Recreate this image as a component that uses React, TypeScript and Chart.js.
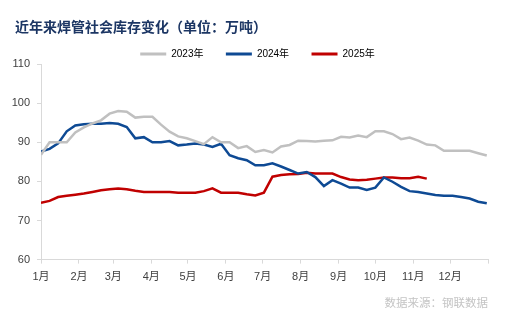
import React, { useEffect, useRef } from "react";
import { Chart, registerables } from "chart.js";

Chart.register(...registerables);

const titleText = "近年来焊管社会库存变化（单位：万吨）";
const sourceText = "数据来源：钢联数据";

const seriesNames = ["2023年", "2024年", "2025年"];
const seriesColors = ["#C0C0C0", "#0E4A94", "#C00000"];

// day-of-year of each weekly observation
const weekDays = [
  0, 7, 14, 21, 28, 35, 42, 49, 56, 63, 70, 77, 84, 91, 98, 105, 112, 119, 126, 133,
  140, 147, 154, 161, 168, 175, 182, 189, 196, 203, 210, 217, 224, 231, 238, 245, 252,
  259, 266, 273, 280, 287, 294, 301, 308, 315, 322, 329, 336, 343, 350, 357, 364,
];

const values2023 = [
  86.8, 90, 90, 90, 92.5, 93.8, 94.8, 95.6, 97.3, 98, 97.8, 96.3, 96.5, 96.5, 94.5,
  92.7, 91.5, 91, 90.3, 89.5, 91.3, 90, 90, 88.5, 89, 87.5, 88, 87.4, 88.9, 89.3, 90.4,
  90.3, 90.2, 90.4, 90.5, 91.4, 91.2, 91.7, 91.3, 92.8, 92.8, 92.1, 90.8, 91.2, 90.4,
  89.4, 89.2, 87.8, 87.8, 87.8, 87.8, 87.2, 86.6,
];

const values2024 = [
  87.6, 88.3, 89.7, 92.8, 94.3, 94.6, 94.7, 94.7, 94.9, 94.7, 93.9, 91, 91.3, 90, 90,
  90.3, 89.2, 89.4, 89.7, 89.4, 88.8, 89.6, 86.7, 85.9, 85.4, 84.1, 84.1, 84.6, 83.8,
  82.9, 82, 82.4, 81.1, 78.8, 80.3, 79.4, 78.4, 78.4, 77.8, 78.4, 81, 79.9, 78.6, 77.5,
  77.3, 76.9, 76.5, 76.3, 76.3, 76, 75.6, 74.8, 74.4,
];

const values2025 = [
  74.5, 75, 76, 76.3, 76.6, 76.9, 77.3, 77.7, 78, 78.2, 78, 77.6, 77.3, 77.3, 77.3,
  77.3, 77.1, 77.1, 77.1, 77.5, 78.2, 77.1, 77.1, 77.1, 76.7, 76.4, 77.1, 81.2, 81.6,
  81.8, 81.9, 82.2, 82, 82, 82, 81.1, 80.5, 80.3, 80.4, 80.7, 81, 81, 80.8, 80.8, 81.2,
  80.7,
];

const monthStartDays = [0, 31, 59, 90, 120, 151, 181, 212, 243, 273, 304, 334, 365];
const monthLabels = ["1月", "2月", "3月", "4月", "5月", "6月", "7月", "8月", "9月", "10月", "11月", "12月", ""];

const yMin = 60;
const yMax = 110;
const yStep = 10;

const allValues = [values2023, values2024, values2025];

// shift the title and legend boxes horizontally after layout
const boxShift = {
  id: "boxShift",
  afterLayout(chart: any) {
    if (chart.titleBlock) {
      chart.titleBlock.left = 15;
    }
    if (chart.legend) {
      chart.legend.left = 15;
      chart.legend.right = 500;
    }
  },
};

export default function App() {
  const canvasRef = useRef<HTMLCanvasElement | null>(null);

  useEffect(() => {
    if (!canvasRef.current) return;
    Chart.defaults.font.family = "'Liberation Sans', 'Noto Sans CJK SC', sans-serif";
    const datasets = allValues.map((vals, k) => ({
      label: seriesNames[k],
      data: vals.map((v, i) => ({ x: weekDays[i], y: v })),
      borderColor: seriesColors[k],
      backgroundColor: seriesColors[k],
      borderWidth: 2.5,
      pointRadius: 0,
      pointHoverRadius: 0,
      tension: 0,
      fill: false,
    }));

    const chart = new Chart(canvasRef.current, {
      type: "line",
      data: { datasets },
      plugins: [boxShift],
      options: {
        animation: false,
        responsive: true,
        maintainAspectRatio: false,
        layout: { padding: { left: 0, right: 33, top: 0, bottom: 0 } },
        plugins: {
          title: {
            display: true,
            text: titleText,
            align: "start",
            color: "#1C3664",
            font: { size: 14, weight: "bold", family: "'Noto Sans CJK SC', sans-serif" },
            padding: { top: 18.6, bottom: -8.8 },
          },
          subtitle: {
            display: true,
            text: sourceText,
            position: "bottom",
            align: "end",
            fullSize: false,
            color: "#C4C4C4",
            font: { size: 11.5, family: "'Noto Sans CJK SC', sans-serif" },
            padding: { top: 0, bottom: 11 },
          },
          legend: {
            display: true,
            position: "top",
            maxHeight: 37.4,
            labels: {
              boxWidth: 26,
              boxHeight: 3,
              padding: 22.4,
              color: "#000000",
              font: { size: 10 },
              generateLabels: (c: any) =>
                (Chart.defaults.plugins.legend.labels as any)
                  .generateLabels(c)
                  .map((l: any) => ({ ...l, lineWidth: 0 })),
            },
          },
          tooltip: { enabled: false },
        },
        scales: {
          x: {
            type: "linear",
            min: monthStartDays[0],
            max: monthStartDays[monthStartDays.length - 1],
            afterBuildTicks: (scale: any) => {
              scale.ticks = monthStartDays.map((v) => ({ value: v }));
            },
            afterFit: (scale: any) => {
              scale.height = 36.6;
            },
            ticks: {
              autoSkip: false,
              maxRotation: 0,
              color: "#404040",
              font: { size: 11 },
              padding: 7,
              callback: (v: any) => {
                const idx = monthStartDays.indexOf(Number(v));
                return idx >= 0 ? monthLabels[idx] : "";
              },
            },
            grid: {
              display: true,
              drawOnChartArea: false,
              drawTicks: true,
              tickLength: 4,
              color: "#D9D9D9",
            },
            border: { display: true, color: "#D9D9D9", width: 1 },
          },
          y: {
            type: "linear",
            min: yMin,
            max: yMax,
            afterFit: (scale: any) => {
              scale.width = 41;
            },
            ticks: {
              stepSize: yStep,
              color: "#404040",
              font: { size: 11 },
              padding: 7,
            },
            grid: {
              display: true,
              drawOnChartArea: false,
              drawTicks: true,
              tickLength: 4,
              color: "#D9D9D9",
            },
            border: { display: true, color: "#D9D9D9", width: 1 },
          },
        },
      },
    } as any);

    return () => chart.destroy();
  }, []);

  return (
    <div style={{ position: "fixed", left: 0, top: 0, width: 521, height: 321, background: "#ffffff" }}>
      <canvas ref={canvasRef} />
    </div>
  );
}
